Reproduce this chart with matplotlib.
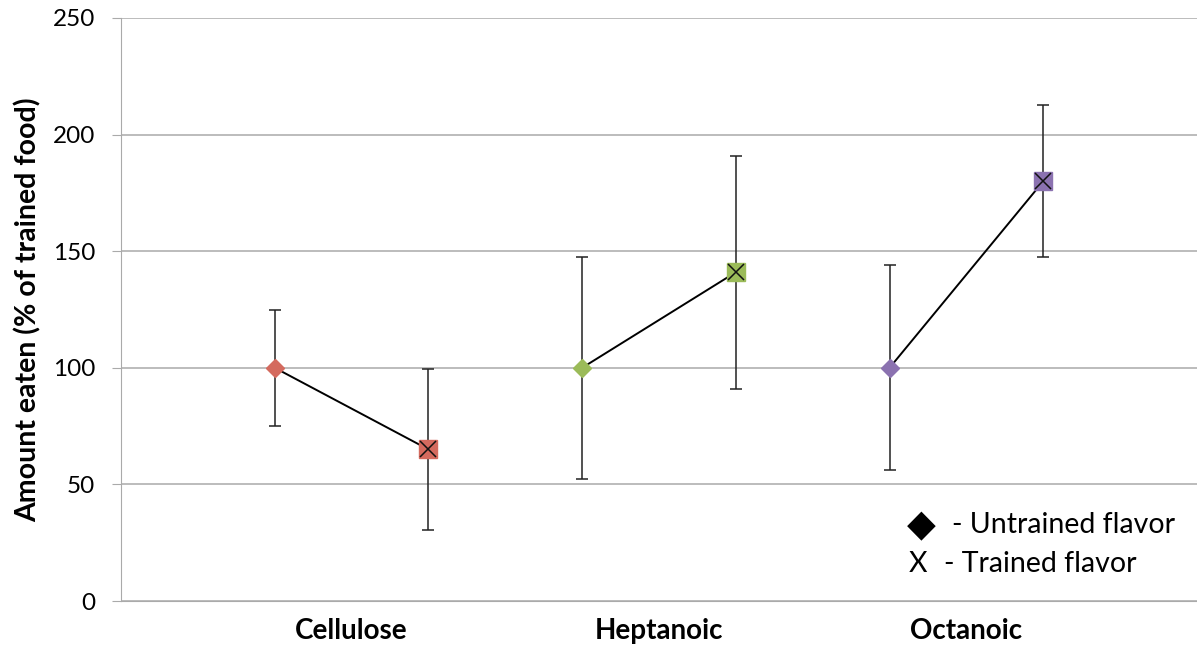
import numpy as np
import matplotlib.pyplot as plt

plt.rcParams['font.family'] = ['Lato', 'DejaVu Sans']

categories = ['Cellulose', 'Heptanoic', 'Octanoic']
colors = ['#D46A5E', '#9BBB59', '#8B72B0']
untrained = [100, 100, 100]
untrained_err = [25, 47.5, 44]
trained = [65, 141, 180]
trained_err = [34.5, 50, 32.5]

fig = plt.figure(figsize=(11.97, 6.45), dpi=100)
ax = fig.add_axes([121 / 1197, 1 - 601 / 645, 1 - 121 / 1197, (601 - 18) / 645])

for i, cat in enumerate(categories):
    xu = 2 * i + 1
    xt = 2 * i + 2
    ax.plot([xu, xt], [untrained[i], trained[i]], color='black', lw=1.4, zorder=3)
    ax.errorbar([xu, xt], [untrained[i], trained[i]], yerr=[untrained_err[i], trained_err[i]],
                fmt='none', ecolor='#222222', elinewidth=1.1, capsize=4.5, capthick=1.1, zorder=2)
    ax.plot(xu, untrained[i], marker='D', ms=9.5, color=colors[i], mec=colors[i], ls='none', zorder=4)
    ax.plot(xt, trained[i], marker='s', ms=12.5, color=colors[i], mec=colors[i], ls='none', zorder=4)
    ax.plot(xt, trained[i], marker='x', ms=12, color='#111111', mew=1.1, ls='none', zorder=5)

ax.set_xlim(0, 7)
ax.set_ylim(0, 250)
ax.set_yticks(np.arange(0, 251, 50))
ax.set_xticks([1.5, 3.5, 5.5])
ax.set_xticklabels(categories, fontsize=20, fontweight='bold')
ax.tick_params(axis='x', length=0, pad=12)
ax.tick_params(axis='y', labelsize=17.5, length=6.5, color='#aaaaaa', pad=12)
ax.grid(axis='y', color='#aaaaaa', lw=1.1)
ax.set_axisbelow(True)
for s in ['top', 'right']:
    ax.spines[s].set_visible(False)
ax.spines['left'].set_color('#aaaaaa')
ax.spines['bottom'].set_color('#aaaaaa')
ax.set_ylabel('Amount eaten (% of trained food)', fontsize=20.5, fontweight='bold', labelpad=8)

ax.text(0.7435, 0.130, '\u25c6', transform=ax.transAxes, fontsize=27, ha='center', va='center')
ax.text(0.772, 0.130, '- Untrained flavor', transform=ax.transAxes, fontsize=20.5, va='center')
ax.text(0.7407, 0.064, 'X', transform=ax.transAxes, fontsize=20.5, ha='center', va='center')
ax.text(0.765, 0.064, '- Trained flavor', transform=ax.transAxes, fontsize=20.5, va='center')

fig.savefig('out.png', dpi=100)
